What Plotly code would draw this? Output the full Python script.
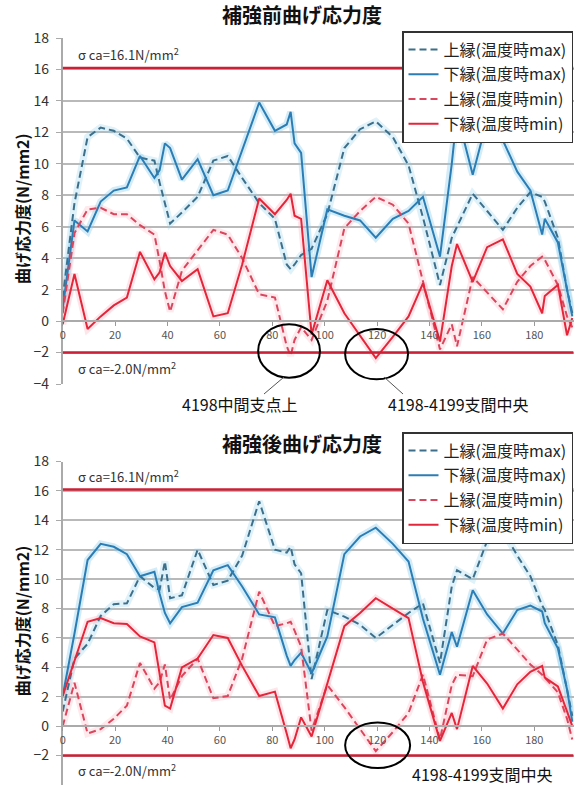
import plotly.graph_objects as go

W, H = 586, 785
FONT = "Noto Sans CJK JP"

# measurement positions along the girder
X = [0, 4.5, 9.5, 14.5, 19.5, 24.5, 29.5, 35, 37, 39, 41, 45.5, 51.5, 57.5, 63, 68.5,
     75, 81, 85.5, 87, 88.5, 91, 95, 101, 107.5, 113.5, 119.5, 126, 132, 137.5,
     144, 148.5, 150.5, 156.5, 162, 168, 173.5, 178.5, 183, 184, 189, 192.5, 194.5]

# 補強前 (before reinforcement)
before_upper_max = [1.5, 7.5, 11.7, 12.3, 12.1, 11.6, 10.4, 10.2, 8.8, 7.4, 6.2, 6.9, 7.9, 10.2, 10.5, 9.1,
                    7.5, 6.5, 3.6, 3.3, 3.6, 4.2, 4.6, 6.8, 11.0, 12.2, 12.7, 11.7, 9.9, 6.6,
                    2.3, 5.3, 6.0, 8.1, 7.0, 5.8, 7.2, 8.2, 7.9, 7.6, 5.3, 2.0, 0.5]
before_lower_max = [0.8, 6.4, 5.7, 7.6, 8.3, 8.5, 10.5, 9.1, 9.6, 11.3, 11.0, 9.0, 10.3, 8.0, 8.3, 10.9,
                    13.9, 12.1, 12.5, 13.3, 11.3, 10.7, 2.8, 7.1, 6.7, 6.4, 5.3, 6.5, 7.0, 7.9,
                    4.1, 10.0, 13.2, 9.3, 12.8, 11.5, 9.5, 8.3, 5.5, 6.5, 5.0, 2.0, 0.3]
before_upper_min = [0.5, 5.6, 7.1, 7.2, 6.8, 6.8, 6.1, 5.5, 3.8, 1.9, 0.6, 3.2, 4.5, 5.8, 5.5, 4.0,
                    1.7, 1.5, -1.6, -2.2, -1.2, -0.4, -1.2, 1.3, 5.9, 7.0, 7.9, 7.4, 6.2, 2.5,
                    -1.8, -0.2, -1.6, 2.8, 1.8, 0.75, 2.5, 3.5, 4.1, 3.9, 2.3, 0.3, -0.4]
before_lower_min = [-0.2, 3.0, -0.5, 0.3, 1.0, 1.5, 4.4, 2.65, 3.1, 4.35, 3.5, 2.55, 3.3, 0.3, 0.5, 3.6,
                    7.8, 6.8, 7.7, 8.1, 6.7, 6.5, -0.85, 2.6, 0.5, -0.9, -2.35, -1.0, 0.3, 2.4,
                    -1.3, 3.5, 4.9, 2.5, 4.7, 5.2, 3.0, 2.2, 0.5, 1.6, 2.3, -0.9, 0.2]

# 補強後 (after reinforcement)
after_upper_max = [1.0, 4.6, 5.6, 7.5, 8.3, 8.35, 10.2, 9.4, 9.3, 11.2, 8.7, 8.9, 12.0, 9.6, 9.9, 11.6,
                   15.3, 12.0, 11.8, 12.2, 11.0, 10.4, 3.2, 7.9, 7.45, 6.9, 6.0, 6.9, 7.7, 8.35,
                   4.3, 9.5, 10.6, 10.0, 12.6, 13.3, 11.6, 10.2, 8.2, 7.9, 5.5, 2.5, 0.7]
after_lower_max = [2.05, 6.3, 11.3, 12.4, 12.2, 11.7, 10.2, 10.5, 9.0, 7.7, 7.0, 8.1, 8.4, 10.6, 10.95, 9.5,
                   7.6, 7.4, 4.8, 4.1, 4.5, 5.0, 3.6, 6.1, 11.7, 12.9, 13.5, 12.4, 11.2, 7.3,
                   3.5, 6.4, 5.4, 9.25, 7.6, 6.3, 7.9, 8.2, 7.8, 7.0, 5.3, 2.5, 0.3]
after_upper_min = [0.0, 2.95, -0.5, -0.2, 0.5, 1.4, 4.3, 2.55, 3.0, 4.2, 1.8, 3.4, 4.6, 1.9, 2.05, 4.6,
                   9.15, 6.8, 7.0, 7.1, 6.5, 5.4, -0.3, 2.8, 1.3, -0.2, -1.7, -0.4, 0.9, 3.5,
                   -0.9, 2.8, 3.5, 3.4, 5.9, 6.3, 5.2, 4.2, 3.5, 3.3, 2.3, 0.5, -0.9]
after_lower_min = [2.05, 4.4, 7.1, 7.35, 7.0, 6.95, 6.1, 5.7, 3.5, 1.4, 1.2, 4.0, 4.6, 6.2, 6.0, 4.1,
                   2.05, 2.35, -0.5, -1.5, -0.9, 0.6, -0.7, 2.85, 6.8, 7.7, 8.7, 8.0, 7.35, 3.0,
                   -1.0, 0.9, -0.2, 4.1, 2.9, 1.2, 2.85, 3.7, 4.1, 3.3, 2.7, 1.0, 0.0]

SERIES_NAMES = ["上縁(温度時max)", "下縁(温度時max)", "上縁(温度時min)", "下縁(温度時min)"]
LINE_COLORS = ["#3d6f8a", "#2b7db5", "#d9465e", "#e3263a"]
GLOW_COLORS = ["rgba(140,205,235,0.28)", "rgba(140,205,235,0.38)",
               "rgba(250,160,175,0.22)", "rgba(250,160,175,0.28)"]
DASHES = ["7px,4px", "solid", "7px,4px", "solid"]

TITLES = ["補強前曲げ応力度", "補強後曲げ応力度"]
Y_TITLE = "曲げ応力度(N/mm2)"
ALLOW_UPPER = 16.1
ALLOW_LOWER = -2.0
Y_TICKS = list(range(-4, 19, 2))
X_TICKS = list(range(0, 181, 20))
X_RANGE = [0, 195]
Y_RANGE = [-4, 18]


def px(x):
    return x / W


def py(y):
    return 1 - y / H


def label(x, y, text, size, **kw):
    return dict(xref="paper", yref="paper", x=px(x), y=py(y), text=text, showarrow=False,
                xanchor="center", yanchor="middle", font=dict(size=size, color="#111"), **kw)


panels = [
    dict(series=[before_upper_max, before_lower_max, before_upper_min, before_lower_min],
         top=38, bottom=384, legend="legend", title_y=15),
    dict(series=[after_upper_max, after_lower_max, after_upper_min, after_lower_min],
         top=461.5, bottom=786, legend="legend2", title_y=443),
]

fig = go.Figure()
layout = dict(width=W, height=H, margin=dict(l=0, r=0, t=0, b=0, autoexpand=False),
              paper_bgcolor="white", plot_bgcolor="white",
              font=dict(family=FONT, color="#222"), shapes=[], annotations=[])

x_dom = [px(62.7), px(573.6)]

for i, p in enumerate(panels, start=1):
    xa = "x" if i == 1 else f"x{i}"
    ya = "y" if i == 1 else f"y{i}"
    y_dom = [max(0.0, py(p["bottom"])), py(p["top"])]
    zero_pos = y_dom[0] + (0 - Y_RANGE[0]) / (Y_RANGE[1] - Y_RANGE[0]) * (y_dom[1] - y_dom[0])

    # soft glow under each line
    for vals, gc in zip(p["series"], GLOW_COLORS):
        fig.add_trace(go.Scatter(x=X, y=vals, xaxis=xa, yaxis=ya, mode="lines",
                                 line=dict(color=gc, width=7), hoverinfo="skip",
                                 showlegend=False))
    for vals, name, col, dash in zip(p["series"], SERIES_NAMES, LINE_COLORS, DASHES):
        fig.add_trace(go.Scatter(x=X, y=vals, xaxis=xa, yaxis=ya, mode="lines", name=name,
                                 line=dict(color=col, width=2, dash=dash),
                                 legend=p["legend"], legendgroup=f"{i}-{name}"))

    layout["xaxis" if i == 1 else f"xaxis{i}"] = dict(
        domain=x_dom, range=X_RANGE, anchor="free", position=zero_pos, automargin=False,
        tickvals=X_TICKS, ticks="outside", ticklen=4, tickcolor="#999",
        showline=True, linecolor="#aaa", linewidth=1.5, showgrid=False, zeroline=False,
        tickfont=dict(size=11, color="#555", family=FONT))
    layout["yaxis" if i == 1 else f"yaxis{i}"] = dict(
        domain=y_dom, range=Y_RANGE, anchor=xa, tickvals=Y_TICKS, automargin=False,
        ticks="outside", ticklen=5, tickcolor="#aaa", ticklabelstandoff=4,
        showline=True, linecolor="#aaa", linewidth=1.5,
        showgrid=True, gridcolor="#b9b9b9", gridwidth=1.5, zeroline=False,
        tickfont=dict(size=14, color="#333", family=FONT))

    # allowable stress lines
    for lim in (ALLOW_UPPER, ALLOW_LOWER):
        layout["shapes"].append(dict(type="line", xref=xa, yref=ya, x0=X_RANGE[0], x1=X_RANGE[1],
                                     y0=lim, y1=lim, line=dict(color="#cc2036", width=2.5),
                                     layer="above"))
    layout["annotations"].append(dict(xref=xa, yref=ya, x=5, y=17.0, xanchor="left", yanchor="middle",
                                      text=f"σ ca={ALLOW_UPPER}N/mm<sup>2</sup>", showarrow=False,
                                      font=dict(size=13, color="#333")))
    layout["annotations"].append(dict(xref=xa, yref=ya, x=5, y=-3.0, xanchor="left", yanchor="middle",
                                      text=f"σ ca={ALLOW_LOWER}N/mm<sup>2</sup>", showarrow=False,
                                      font=dict(size=13, color="#333")))
    # chart title and vertical axis title
    layout["annotations"].append(label(302, p["title_y"], f"<b>{TITLES[i - 1]}</b>", 20))
    layout["annotations"].append(label(22, (p["top"] + min(p["bottom"], 785)) / 2 - 2,
                                       f"<b>{Y_TITLE}</b>", 16, textangle=-90))

# legends
legend_style = dict(xanchor="left", yanchor="top", bgcolor="white", bordercolor="#333",
                    borderwidth=1.5, font=dict(size=16, color="#222", family=FONT),
                    tracegroupgap=1, itemwidth=30)
layout["legend"] = dict(x=px(402), y=py(31), **legend_style)
layout["legend2"] = dict(x=px(402), y=py(432), **legend_style)

# marked locations
ellipse = dict(type="circle", line=dict(color="black", width=2), layer="above")
layout["shapes"] += [
    dict(xref="x", yref="y", x0=74.6, x1=98.2, y0=-3.6, y1=-0.2, **ellipse),
    dict(xref="x", yref="y", x0=107.8, x1=131.8, y0=-3.7, y1=-0.5, **ellipse),
    dict(xref="x2", yref="y2", x0=107.8, x1=132.6, y0=-2.85, y1=0.25, **ellipse),
    dict(type="line", xref="paper", yref="paper", x0=px(284), y0=py(377), x1=px(264), y1=py(394),
         line=dict(color="#555", width=1)),
    dict(type="line", xref="paper", yref="paper", x0=px(384), y0=py(377), x1=px(403), y1=py(394),
         line=dict(color="#555", width=1)),
]
for tx, ty, t in [(240, 404, "4198中間支点上"), (458, 404, "4198-4199支間中央"),
                  (482, 774, "4198-4199支間中央")]:
    layout["annotations"].append(label(tx, ty, t, 16))

fig.update_layout(**layout)
fig.write_html("out.html")
